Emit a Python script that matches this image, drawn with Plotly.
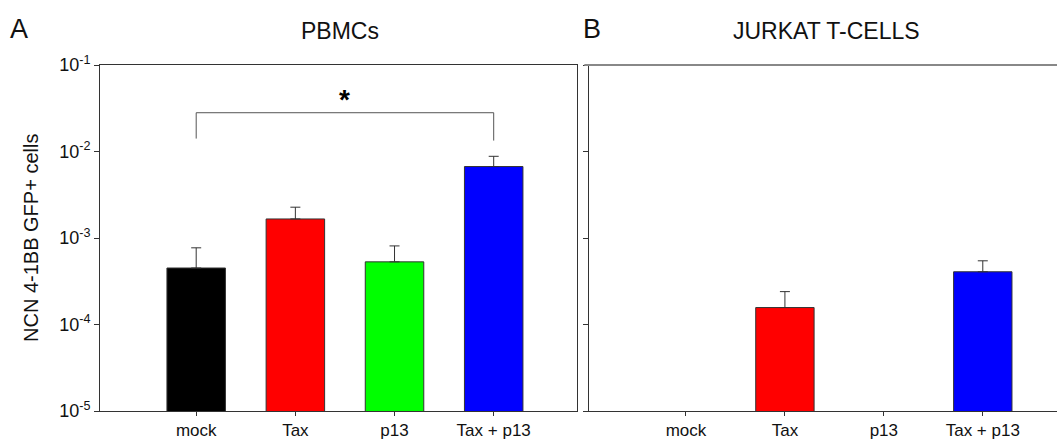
import plotly.graph_objects as go
from plotly.subplots import make_subplots

categories = ["mock", "Tax", "p13", "Tax + p13"]
colors = ["#000000", "#ff0000", "#00ff00", "#0000ff"]

pbmc_values = [4.5e-4, 1.66e-3, 5.3e-4, 6.7e-3]
pbmc_err = [3.2e-4, 0.61e-3, 2.8e-4, 2.1e-3]

jurkat_values = [None, 1.57e-4, None, 4.07e-4]
jurkat_err = [None, 0.83e-4, None, 1.38e-4]

tick_vals = [1e-5, 1e-4, 1e-3, 1e-2, 1e-1]
tick_text = ["10<sup>-5</sup>", "10<sup>-4</sup>", "10<sup>-3</sup>", "10<sup>-2</sup>", "10<sup>-1</sup>"]

FONT = "Liberation Sans, Arial, sans-serif"
AX = "#333333"
TXT = "#111111"

fig = make_subplots(rows=1, cols=2, shared_yaxes=False, horizontal_spacing=0.0)

fig.add_trace(go.Bar(
    x=categories, y=pbmc_values, marker=dict(color=colors, line=dict(color=AX, width=1)),
    width=0.59,
    error_y=dict(type="data", array=pbmc_err, arrayminus=[0]*4, symmetric=False,
                 color=AX, thickness=1, width=5),
    showlegend=False, hoverinfo="skip"), row=1, col=1)

fig.add_trace(go.Bar(
    x=categories, y=jurkat_values, marker=dict(color=colors, line=dict(color=AX, width=1)),
    width=0.59,
    error_y=dict(type="data", array=jurkat_err, arrayminus=[0]*4, symmetric=False,
                 color=AX, thickness=1, width=5),
    showlegend=False, hoverinfo="skip"), row=1, col=2)

L, R, T, B = 100, 1, 65, 28
W, H = 1058, 441
pw = W - L - R
ph = H - T - B

def px(x):
    return (x - L) / pw

def py(y):
    return (H - B - y) / ph

fig.update_layout(
    width=W, height=H, margin=dict(l=L, r=R, t=T, b=B),
    paper_bgcolor="white", plot_bgcolor="white",
    font=dict(family=FONT, color=TXT),
    xaxis=dict(domain=[0, px(577)], range=[-0.97, 3.84], showline=True, mirror=True,
               linecolor=AX, linewidth=1, ticks="outside", ticklen=4, tickcolor=AX,
               tickfont=dict(size=17, family=FONT, color=TXT), showgrid=False, zeroline=False),
    xaxis2=dict(domain=[px(589), 1], range=[-0.98, 3.75], showline=True, mirror=False,
                linecolor=AX, linewidth=1, ticks="outside", ticklen=4, tickcolor=AX,
                tickfont=dict(size=17, family=FONT, color=TXT), showgrid=False, zeroline=False),
    yaxis=dict(type="log", range=[-5, -1], tickvals=tick_vals, ticktext=tick_text,
               showline=True, mirror=True, linecolor=AX, linewidth=1, ticks="outside",
               ticklen=5, tickcolor=AX, tickfont=dict(size=18, family=FONT, color=TXT),
               showgrid=False, zeroline=False),
    yaxis2=dict(type="log", range=[-5, -1], tickvals=tick_vals, showticklabels=False,
                showline=True, mirror=False, linecolor=AX, linewidth=1, ticks="outside",
                ticklen=5, tickcolor=AX, showgrid=False, zeroline=False),
)

# top border of right panel (gray)
fig.add_shape(type="line", xref="x2 domain", yref="paper", x0=-0.01, x1=1, y0=1, y1=1,
              line=dict(color="#888888", width=2))

# significance bracket
fig.add_shape(type="line", xref="x", yref="paper", x0=categories[0], x1=categories[0],
              y0=py(139), y1=py(113), line=dict(color="#555555", width=1))
fig.add_shape(type="line", xref="x", yref="paper", x0=categories[0], x1=categories[3],
              y0=py(113), y1=py(113), line=dict(color="#555555", width=1))
fig.add_shape(type="line", xref="x", yref="paper", x0=categories[3], x1=categories[3],
              y0=py(141), y1=py(113), line=dict(color="#555555", width=1))

annotations = [
    dict(text="<b>*</b>", x=1.5, xref="x", y=py(100), yref="paper", showarrow=False,
         font=dict(size=28, family=FONT, color="#000000"), xanchor="center", yanchor="middle"),
    dict(text="PBMCs", x=px(340), y=py(31), xref="paper", yref="paper", showarrow=False,
         font=dict(size=23, family=FONT, color=TXT), xanchor="center", yanchor="middle"),
    dict(text="JURKAT T-CELLS", x=px(826), y=py(31), xref="paper", yref="paper", showarrow=False,
         font=dict(size=23, family=FONT, color=TXT), xanchor="center", yanchor="middle"),
    dict(text="A", x=px(19), y=py(29), xref="paper", yref="paper", showarrow=False,
         font=dict(size=27, family=FONT, color=TXT), xanchor="center", yanchor="middle"),
    dict(text="B", x=px(592), y=py(29), xref="paper", yref="paper", showarrow=False,
         font=dict(size=27, family=FONT, color=TXT), xanchor="center", yanchor="middle"),
    dict(text="NCN 4-1BB GFP+ cells", x=px(31), y=0.5, xref="paper", yref="paper",
         showarrow=False, textangle=-90, font=dict(size=20, family=FONT, color=TXT),
         xanchor="center", yanchor="middle"),
]
fig.update_layout(annotations=annotations)

fig.write_html("out.html", config={"displayModeBar": False},
               post_script="document.body.style.margin='0';document.body.style.overflow='hidden';")
